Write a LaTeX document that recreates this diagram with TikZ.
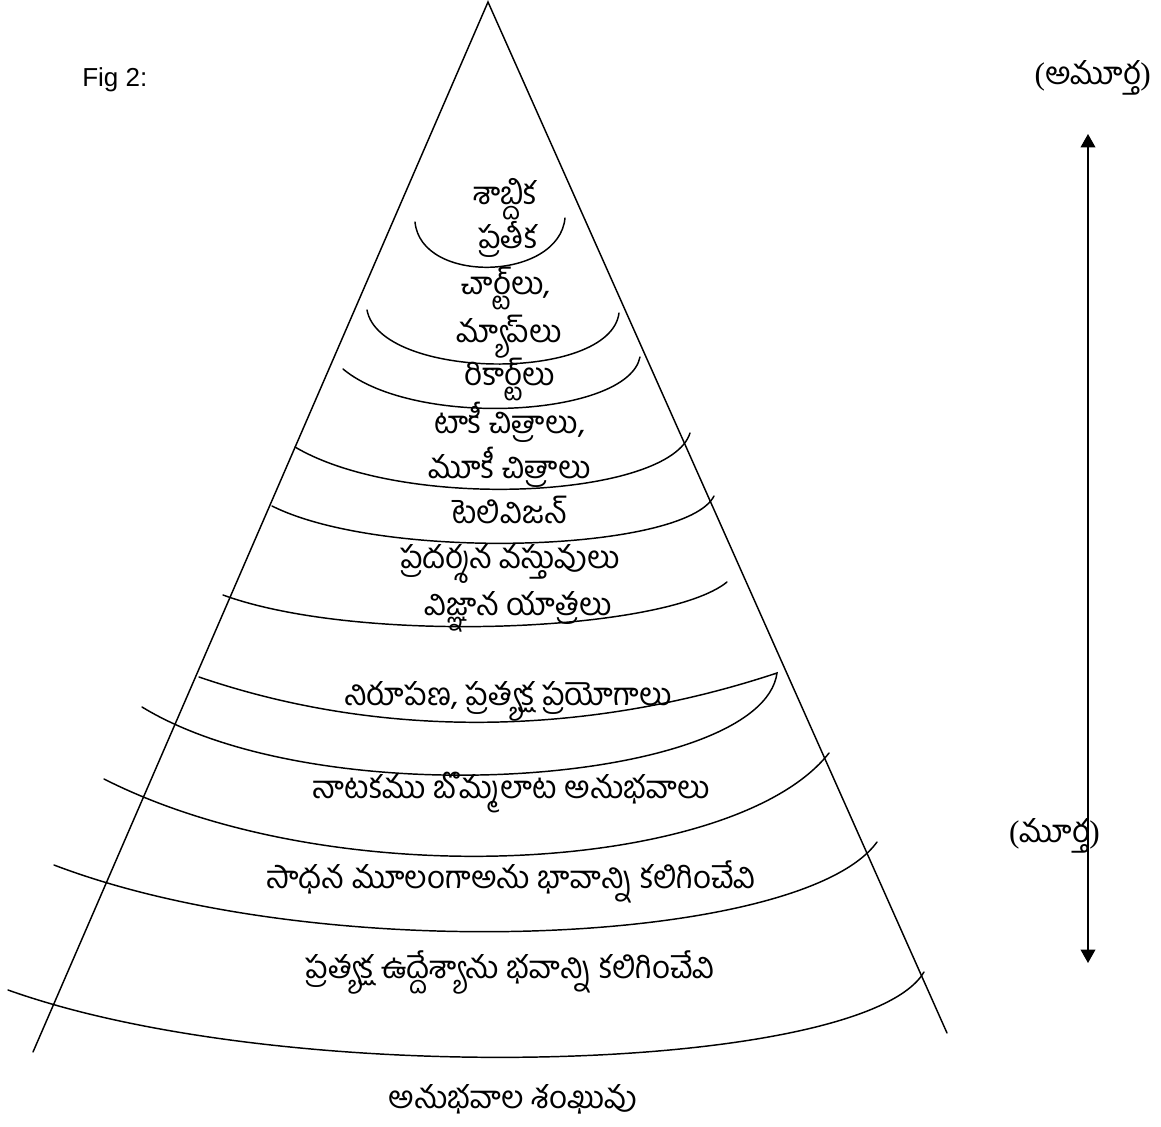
\documentclass[tikz,border=0pt]{standalone}
\usepackage{fontspec}
\usetikzlibrary{arrows.meta}
\setmainfont{Liberation Sans}
\newfontfamily\te[Script=Telugu]{Hind Guntur}
\newfontfamily\ser{Liberation Serif}
\begin{document}
\begin{tikzpicture}[x=0.75pt,y=-0.75pt,
  line cap=round,
  edge/.style={line width=1.1pt,black},
  lbl/.style={anchor=base,inner sep=0pt,font=\te\fontsize{23.5pt}{25pt}\selectfont},
  arr/.style={line width=1.1pt,{Triangle[length=10pt,width=11pt]}-{Triangle[length=10pt,width=11pt]}}]
\useasboundingbox (0,0) rectangle (1161,1127);
% cone
\coordinate (apex) at (488,2);
\coordinate (lb) at (33,1052);
\coordinate (rb) at (947,1033);
\draw[edge] (lb) -- (apex) -- (rb);
% arcs
\draw[edge] (415,222) .. controls (421,285) and (559,281) .. (565,218);
\draw[edge] (367,310) .. controls (380,380) and (610,383) .. (619,313);
\draw[edge] (343,369) .. controls (415,429) and (628,417) .. (640,357);
\draw[edge] (295,447) .. controls (405,512) and (670,498) .. (690,433);
\draw[edge] (272,506) .. controls (384,562) and (686,552) .. (714,496);
\draw[edge] (223,595) .. controls (360,645) and (666,632) .. (727,582);
\draw[edge] (142,707) .. controls (324,818) and (762,784) .. (777,673)
               .. controls (587,736) and (383,740) .. (199,677);
\draw[edge] (104,779) .. controls (339,898) and (736,872) .. (829,753);
\draw[edge] (54,865) .. controls (324,968) and (803,945) .. (877,842);
\draw[edge] (8,990) .. controls (291,1091) and (865,1073) .. (924,972);
% labels
\node[lbl] (l1) at (505,205) {శాబ్దిక};
\node[lbl] (l2) at (508,248) {ప్రతీక};
\node[lbl] (l3) at (506,295) {చార్ట్‌లు,};
\node[lbl] (l4) at (509,342) {మ్యాప్‌లు};
\node[lbl] (l5) at (510,385) {రికార్ట్‌లు};
\node[lbl] (l6) at (510,433) {టాకీ చిత్రాలు,};
\node[lbl] (l7) at (510,478) {మూకీ చిత్రాలు};
\node[lbl] (l8) at (510,523) {టెలివిజన్};
\node[lbl] (l9) at (510,568) {ప్రదర్శన వస్తువులు};
\node[lbl] (l10) at (518,615) {విజ్ఞాన యాత్రలు};
\node[lbl] (l11) at (508,705) {నిరూపణ, ప్రత్యక్ష ప్రయోగాలు};
\node[lbl] (l12) at (511,798) {నాటకము బొమ్మలాట అనుభవాలు};
\node[lbl] (l13) at (511,888) {సాధన మూలంగాఅను భావాన్ని కలిగించేవి};
\node[lbl] (l14) at (510,978) {ప్రత్యక్ష ఉద్దేశ్యాను భవాన్ని కలిగించేవి};
\node[lbl] (title) at (513,1108) {అనుభవాల శంఖువు};
\node[anchor=base west,inner sep=0pt,font=\fontsize{19.5pt}{22pt}\selectfont] (fig) at (82,87) {Fig 2:};
\node[lbl,anchor=base east] (abs) at (1151,85) {{\ser(}అమూర్త{\ser)}};
\node[lbl,anchor=base east] (con) at (1100,842) {{\ser(}మూర్త{\ser)}};
% arrow
\coordinate (atop) at (1088,134);
\coordinate (abot) at (1088,963);
\draw[arr] (abot) -- (atop);
\end{tikzpicture}
\end{document}
